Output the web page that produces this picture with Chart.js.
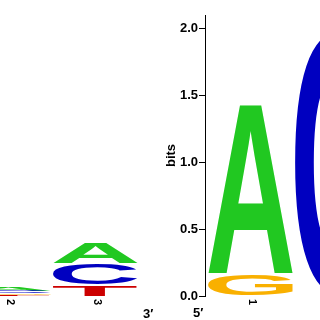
<!DOCTYPE html>
<html><head><meta charset="utf-8">
<script src="https://cdn.jsdelivr.net/npm/chart.js@4.4.1/dist/chart.umd.min.js"></script>
<style>
html,body{margin:0;padding:0;background:#fff;width:320px;height:320px;overflow:hidden;position:relative}
canvas{position:absolute;top:0}
#left{left:0}
#right{left:150px}
</style></head><body>
<canvas id="left" width="175" height="320"></canvas>
<canvas id="right" width="231" height="320"></canvas>
<script>
const letters = ['A','C','G','T'];
const letterColors = {A:'#21c821', C:'#0000c0', G:'#f9b000', T:'#cc0000'};

// left logo (tail of the previous motif)
const leftPositions = [2, 3];
const leftLabels = ['2', '3'];
const leftA = [0.033, 0.165];
const leftC = [0.014, 0.160];
const leftG = [0.011, 0.000];
const leftT = [0.009, 0.082];

// right logo
const rightPositions = [1, 2];
const rightLabels = ['1', '2'];
const rightA = [1.28, 0.00];
const rightC = [0.00, 1.98];
const rightG = [0.17, 0.00];
const rightT = [0.00, 0.00];

const yTicks = [0, 0.5, 1.0, 1.5, 2.0];

Chart.defaults.font.family = '"Liberation Sans", Arial, Helvetica, sans-serif';

function stackRanges(positions, heights) {
  const ranges = {};
  letters.forEach(l => ranges[l] = positions.map(() => null));
  positions.forEach((p, i) => {
    const col = letters.map(l => ({l, h: heights[l][i]})).filter(o => o.h > 0).sort((a, b) => a.h - b.h);
    let acc = 0;
    col.forEach(o => { ranges[o.l][i] = [acc, acc + o.h]; acc += o.h; });
  });
  return ranges;
}

function makeDatasets(positions, heights) {
  const r = stackRanges(positions, heights);
  return letters.map(l => ({
    label: l,
    letter: l,
    data: positions.map((p, i) => ({x: p, y: r[l][i]})),
    backgroundColor: 'rgba(0,0,0,0)',
    borderWidth: 0,
    grouped: false,
    barThickness: 85
  }));
}

function drawLetter(ctx, ch, color, left, top, w, h) {
  if (!(w > 0) || !(h > 0.2)) return;
  ctx.save();
  ctx.font = 'bold 100px "Liberation Sans", Arial, Helvetica, sans-serif';
  ctx.textAlign = 'left';
  ctx.textBaseline = 'alphabetic';
  const m = ctx.measureText(ch);
  const inkL = m.actualBoundingBoxLeft, inkR = m.actualBoundingBoxRight;
  const asc = m.actualBoundingBoxAscent, desc = m.actualBoundingBoxDescent;
  ctx.translate(left, top);
  ctx.scale(w / (inkL + inkR), h / (asc + desc));
  ctx.fillStyle = color;
  ctx.fillText(ch, inkL, asc);
  ctx.restore();
}

const logoPlugin = {
  id: 'logo',
  afterDatasetsDraw(chart) {
    const ctx = chart.ctx;
    chart.data.datasets.forEach((ds, di) => {
      const meta = chart.getDatasetMeta(di);
      meta.data.forEach(el => {
        const {x, y, base, width} = el.getProps(['x', 'y', 'base', 'width'], true);
        if (!isFinite(y) || !isFinite(base) || !isFinite(x)) return;
        const top = Math.min(y, base), bot = Math.max(y, base);
        const h = bot - top;
        const gap = h > 4 ? 0.5 : 0;
        drawLetter(ctx, ds.letter, letterColors[ds.letter], x - width / 2, top + gap, width, h - 2 * gap);
      });
    });
  },
  afterDraw(chart, args, opts) {
    const ctx = chart.ctx, xs = chart.scales.x, area = chart.chartArea;
    ctx.save();
    ctx.fillStyle = '#000';
    ctx.font = 'bold 11px "Liberation Sans", Arial, Helvetica, sans-serif';
    (opts.positions || []).forEach((p, i) => {
      const cx = xs.getPixelForValue(p) + 2;
      ctx.save();
      ctx.translate(cx, area.bottom + 3);
      ctx.rotate(Math.PI / 2);
      ctx.textAlign = 'left';
      ctx.textBaseline = 'middle';
      ctx.fillText(opts.labels[i], 0, 0);
      ctx.restore();
    });
    ctx.font = 'bold 13px "Liberation Sans", Arial, Helvetica, sans-serif';
    ctx.textAlign = 'left';
    ctx.textBaseline = 'alphabetic';
    if (opts.startLabel) ctx.fillText(opts.startLabel, area.left - 12, area.bottom + 21);
    if (opts.endLabel) ctx.fillText(opts.endLabel, area.right + 4, area.bottom + 22);
    ctx.restore();
  }
};

new Chart(document.getElementById('left'), {
  type: 'bar',
  data: { datasets: makeDatasets(leftPositions, {A: leftA, C: leftC, G: leftG, T: leftT}) },
  options: {
    responsive: false, animation: false, devicePixelRatio: 1,
    layout: { padding: { left: 0, right: 36, top: 15, bottom: 24 } },
    plugins: {
      legend: { display: false }, tooltip: { enabled: false },
      logo: { positions: leftPositions, labels: leftLabels, endLabel: '3\u2032' }
    },
    scales: {
      x: { type: 'linear', display: false, offset: false, min: 1.9023, max: 3.5, grid: { offset: false } },
      y: { display: false, min: 0, max: 2.1 }
    }
  },
  plugins: [logoPlugin]
});

new Chart(document.getElementById('right'), {
  type: 'bar',
  data: { datasets: makeDatasets(rightPositions, {A: rightA, C: rightC, G: rightG, T: rightT}) },
  options: {
    responsive: false, animation: false, devicePixelRatio: 1,
    layout: { padding: { left: 0, right: 0, top: 15, bottom: 24 } },
    plugins: {
      legend: { display: false }, tooltip: { enabled: false },
      logo: { positions: rightPositions, labels: rightLabels, startLabel: '5\u2032' }
    },
    scales: {
      x: { type: 'linear', display: false, offset: false, min: 0.477, max: 2.5, grid: { offset: false } },
      y: {
        min: 0, max: 2.1,
        afterBuildTicks: s => { s.ticks = yTicks.map(v => ({value: v})); },
        afterFit: s => { s.width = 55; },
        ticks: { callback: v => Number(v).toFixed(1), font: { size: 13, weight: 'bold' }, color: '#000', padding: 1 },
        grid: { display: true, drawOnChartArea: false, drawTicks: true, tickLength: 6, color: '#000', lineWidth: 1 },
        border: { display: true, color: '#000', width: 1 },
        title: { display: true, text: 'bits', font: { size: 13, weight: 'bold' }, color: '#000', padding: { top: 14, bottom: 0 } }
      }
    }
  },
  plugins: [logoPlugin]
});
</script>
</body></html>
